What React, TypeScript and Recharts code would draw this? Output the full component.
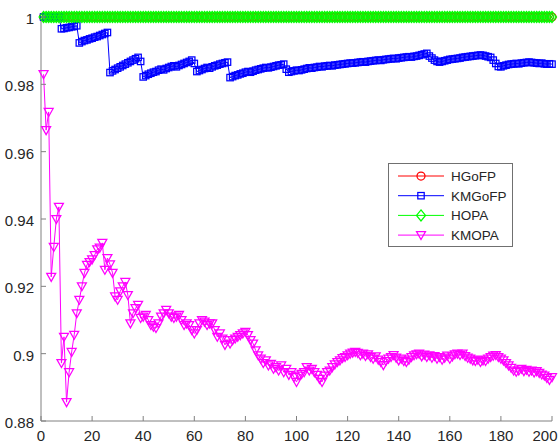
import { LineChart, Line, XAxis, YAxis, Legend } from "recharts";

// x = 1..200 (iteration index)
const xValues: number[] = Array.from({ length: 200 }, (_, i) => i + 1);

const xTicks = [0, 20, 40, 60, 80, 100, 120, 140, 160, 180, 200];
const yTicks = [0.88, 0.9, 0.92, 0.94, 0.96, 0.98, 1];

// HGoFP and HOPA stay at 1 the whole way
const hgofp: number[] = Array(200).fill(1);
const hopa: number[] = Array(200).fill(1);

const kmgofp: number[] = [
    // 1-7
    1, 1, 1, 1, 1, 1, 1,
    // 8-14
    0.9965, 0.9966, 0.9968, 0.9969, 0.9971, 0.9972, 0.9974,
    // 15-26
    0.9923, 0.9927, 0.993, 0.9932, 0.9935, 0.9937, 0.994, 0.9942, 0.9945, 0.9948, 0.9951, 0.9954,
    // 27-39
    0.9835, 0.984, 0.9844, 0.9848, 0.9852, 0.9856, 0.986, 0.9864, 0.9868, 0.9872, 0.9876, 0.988, 0.9868,
    // 40-59
    0.9822, 0.9826, 0.983, 0.9833, 0.9836, 0.9838, 0.9842, 0.9845, 0.9843, 0.9847,
    0.985, 0.9853, 0.9855, 0.9852, 0.9856, 0.9859, 0.9862, 0.9865, 0.9868, 0.9872,
    // 60
    0.9862,
    // 61-73
    0.9838, 0.9841, 0.9844, 0.9847, 0.985, 0.9848, 0.9852, 0.9855, 0.9857, 0.986, 0.9862, 0.9864, 0.9866,
    // 74-95
    0.982, 0.9823, 0.9826, 0.9828, 0.9831, 0.9833, 0.9836, 0.9838, 0.9836, 0.9839, 0.9842,
    0.9844, 0.9846, 0.9848, 0.985, 0.9849, 0.9851, 0.9853, 0.9855, 0.9857, 0.9858, 0.986,
    // 96-97
    0.9845, 0.9836,
    // 98-121
    0.9838, 0.984, 0.9842, 0.9841, 0.9843, 0.9845, 0.9847, 0.9849, 0.9848, 0.985, 0.9851, 0.9853,
    0.9852, 0.9854, 0.9855, 0.9856, 0.9855, 0.9857, 0.9858, 0.9859, 0.986, 0.9861, 0.9862, 0.9863,
    // 122-151
    0.9863, 0.9864, 0.9865, 0.9866, 0.9867, 0.9866, 0.9868, 0.9869, 0.987, 0.9871,
    0.9872, 0.9871, 0.9873, 0.9874, 0.9875, 0.9876, 0.9877, 0.9876, 0.9878, 0.9879,
    0.988, 0.9881, 0.9882, 0.9881, 0.9883, 0.9884, 0.9886, 0.9888, 0.989, 0.9892,
    // 152-156
    0.9884, 0.9878, 0.9872, 0.9868, 0.9866,
    // 157-172
    0.9868, 0.987, 0.9872, 0.9874, 0.9875, 0.9876, 0.9877, 0.9878, 0.988, 0.9881, 0.9882, 0.9883,
    0.9884, 0.9885, 0.9886, 0.9887,
    // 173-177
    0.9886, 0.9884, 0.9882, 0.988, 0.9872,
    // 178-180
    0.9862, 0.9853, 0.9852,
    // 181-200
    0.9855, 0.9857, 0.9859, 0.986, 0.9861, 0.9862, 0.9861, 0.9863, 0.9864, 0.9865,
    0.9866, 0.9865, 0.9864, 0.9863, 0.9862, 0.9863, 0.9861, 0.986, 0.9861, 0.986,
];

const kmopa: number[] = [
    // 1-10
    0.983, 0.9664, 0.9718, 0.9228, 0.9317, 0.94, 0.9436, 0.8972, 0.905, 0.8856,
    // 11-20
    0.8945, 0.9005, 0.9056, 0.912, 0.916, 0.92, 0.924, 0.9264, 0.9272, 0.928,
    // 21-30
    0.9293, 0.931, 0.9315, 0.9329, 0.9249, 0.9284, 0.9265, 0.924, 0.917, 0.916,
    // 31-40
    0.9185, 0.92, 0.9213, 0.9174, 0.909, 0.912, 0.9135, 0.9145, 0.9106, 0.911,
    // 41-50
    0.9115, 0.91, 0.9085, 0.908, 0.9076, 0.909, 0.911, 0.912, 0.913, 0.912,
    // 51-60
    0.911, 0.9106, 0.911, 0.9115, 0.91, 0.9085, 0.909, 0.9085, 0.907, 0.906,
    // 61-70
    0.907, 0.909, 0.91, 0.9095, 0.9085, 0.909, 0.909, 0.907, 0.905, 0.906,
    // 71-80
    0.9045, 0.9026, 0.904, 0.903, 0.904, 0.9045, 0.905, 0.9055, 0.906, 0.9065,
    // 81-90
    0.9055, 0.904, 0.903, 0.901, 0.8995, 0.8985, 0.8972, 0.898, 0.8965, 0.897,
    // 91-100
    0.8955, 0.896, 0.895, 0.8965, 0.8945, 0.8955, 0.8937, 0.8945, 0.893, 0.8916,
    // 101-110
    0.8935, 0.894, 0.8945, 0.896, 0.895, 0.8955, 0.8945, 0.8937, 0.8925, 0.8916,
    // 111-120
    0.8935, 0.8945, 0.895, 0.896, 0.8968, 0.8975, 0.898, 0.8987, 0.899, 0.8995,
    // 121-130
    0.9, 0.9003, 0.9005, 0.9002, 0.8995, 0.9, 0.8993, 0.8998, 0.899, 0.8985,
    // 131-140
    0.8992, 0.8982, 0.8975, 0.8966, 0.8978, 0.8985, 0.899, 0.8996, 0.8988, 0.898,
    // 141-150
    0.8985, 0.8978, 0.8975, 0.8982, 0.899, 0.8995, 0.8998, 0.9, 0.8992, 0.8997,
    // 151-160
    0.899, 0.8995, 0.8988, 0.8993, 0.8985, 0.899, 0.8982, 0.8988, 0.8994, 0.8985,
    // 161-170
    0.8992, 0.8998, 0.9, 0.8996, 0.9, 0.8993, 0.8988, 0.8985, 0.898, 0.8978,
    // 171-180
    0.8982, 0.8975, 0.898, 0.8978, 0.8985, 0.899, 0.8994, 0.8996, 0.899, 0.8985,
    // 181-190
    0.898, 0.8972, 0.8965, 0.8958, 0.895, 0.8946, 0.895, 0.8955, 0.8948, 0.8952,
    // 191-200
    0.8946, 0.895, 0.8944, 0.8948, 0.8943, 0.8938, 0.8935, 0.8928, 0.8922, 0.893,
];

const chartData = xValues.map((x, i) => ({
    x,
    hgofp: hgofp[i],
    kmgofp: kmgofp[i],
    hopa: hopa[i],
    kmopa: kmopa[i],
}));

const AXIS_COLOR = "#808080";
const TEXT_COLOR = "#262626";
const FONT = "'Liberation Sans', Arial, sans-serif";
const MARKER_STROKE = 1.25;

type MarkerKind = "circle" | "square" | "diamond" | "triangle";

const MarkerShape = ({ kind, cx, cy, color }: { kind: MarkerKind; cx: number; cy: number; color: string }) => {
    if (kind === "circle") {
        return <circle cx={cx} cy={cy} r={4} fill="none" stroke={color} strokeWidth={MARKER_STROKE} />;
    }
    if (kind === "square") {
        return (
            <rect x={cx - 3.2} y={cy - 3.2} width={6.4} height={6.4} fill="none" stroke={color} strokeWidth={MARKER_STROKE} />
        );
    }
    if (kind === "diamond") {
        return (
            <path
                d={`M${cx},${cy - 5.5}L${cx + 4.5},${cy}L${cx},${cy + 5.5}L${cx - 4.5},${cy}Z`}
                fill="none"
                stroke={color}
                strokeWidth={MARKER_STROKE}
            />
        );
    }
    return (
        <path
            d={`M${cx - 4.5},${cy - 3.5}L${cx + 4.5},${cy - 3.5}L${cx},${cy + 4.5}Z`}
            fill="none"
            stroke={color}
            strokeWidth={MARKER_STROKE}
        />
    );
};

const makeDot = (kind: MarkerKind, color: string) => (props: any) => {
    const { cx, cy, index } = props;
    if (cx == null || cy == null) return <g key={index} />;
    return (
        <g key={index}>
            <MarkerShape kind={kind} cx={cx} cy={cy} color={color} />
        </g>
    );
};

const series = [
    { key: "hgofp", name: "HGoFP", color: "#FF0000", marker: "circle" as MarkerKind },
    { key: "kmgofp", name: "KMGoFP", color: "#0000FF", marker: "square" as MarkerKind },
    { key: "hopa", name: "HOPA", color: "#00FF00", marker: "diamond" as MarkerKind },
    { key: "kmopa", name: "KMOPA", color: "#FF00FF", marker: "triangle" as MarkerKind },
];

const fmt = (v: number) => String(+v.toFixed(2));

// ticks drawn MATLAB style: small marks pointing into the plot
const LeftTick = (props: any) => {
    const { x, y, payload } = props;
    return (
        <g>
            <line x1={x} x2={x + 5} y1={y} y2={y} stroke={AXIS_COLOR} />
            <text x={x - 7} y={y + 7} textAnchor="end" fill={TEXT_COLOR} fontSize={15} fontFamily={FONT}>
                {fmt(payload.value)}
            </text>
        </g>
    );
};

const RightTick = (props: any) => {
    const { x, y } = props;
    return <line x1={x - 5} x2={x} y1={y} y2={y} stroke={AXIS_COLOR} />;
};

const BottomTick = (props: any) => {
    const { x, y, payload } = props;
    // keep the last label inside the picture
    const tx = Math.min(x, 545);
    return (
        <g>
            <line x1={x} x2={x} y1={y} y2={y - 5} stroke={AXIS_COLOR} />
            <text x={tx} y={y + 20} textAnchor="middle" fill={TEXT_COLOR} fontSize={15} fontFamily={FONT}>
                {fmt(payload.value)}
            </text>
        </g>
    );
};

const TopTick = (props: any) => {
    const { x, y } = props;
    return <line x1={x} x2={x} y1={y} y2={y + 5} stroke={AXIS_COLOR} />;
};

const LegendBox = () => (
    <div
        style={{
            width: 123,
            height: 82,
            border: "1px solid #707070",
            background: "#fff",
            boxSizing: "content-box",
        }}
    >
        <svg width={123} height={82}>
            {series.map((s, i) => {
                const cy = 12 + i * 19.7;
                return (
                    <g key={s.key}>
                        <line x1={9} x2={55} y1={cy} y2={cy} stroke={s.color} strokeWidth={1} />
                        <MarkerShape kind={s.marker} cx={32} cy={cy} color={s.color} />
                        <text x={62} y={cy + 5} fill={TEXT_COLOR} fontSize={13.5} fontFamily={FONT}>
                            {s.name}
                        </text>
                    </g>
                );
            })}
        </svg>
    </div>
);

export default function App() {
    return (
        <div style={{ position: "absolute", left: 0, top: 0, background: "#fff" }}>
            <LineChart width={560} height={443} data={chartData} margin={{ top: 17, right: 8, left: 0, bottom: 0 }}>
                <XAxis
                    dataKey="x"
                    type="number"
                    domain={[0, 200]}
                    ticks={xTicks}
                    interval={0}
                    height={22}
                    tickSize={0}
                    tickMargin={0}
                    tickLine={false}
                    axisLine={{ stroke: AXIS_COLOR }}
                    tick={<BottomTick />}
                />
                <XAxis
                    xAxisId="top"
                    orientation="top"
                    dataKey="x"
                    type="number"
                    domain={[0, 200]}
                    ticks={xTicks}
                    interval={0}
                    height={0}
                    tickSize={0}
                    tickMargin={0}
                    tickLine={false}
                    axisLine={{ stroke: AXIS_COLOR }}
                    tick={<TopTick />}
                />
                <YAxis
                    type="number"
                    domain={[0.88, 1]}
                    ticks={yTicks}
                    interval={0}
                    width={41}
                    tickSize={0}
                    tickMargin={0}
                    tickLine={false}
                    axisLine={{ stroke: AXIS_COLOR }}
                    tick={<LeftTick />}
                />
                <YAxis
                    yAxisId="right"
                    orientation="right"
                    type="number"
                    domain={[0.88, 1]}
                    ticks={yTicks}
                    interval={0}
                    width={0}
                    tickSize={0}
                    tickMargin={0}
                    tickLine={false}
                    axisLine={{ stroke: AXIS_COLOR }}
                    tick={<RightTick />}
                />
                {series.map((s) => (
                    <Line
                        key={s.key}
                        type="linear"
                        dataKey={s.key}
                        name={s.name}
                        stroke={s.color}
                        strokeWidth={1}
                        dot={makeDot(s.marker, s.color)}
                        activeDot={false}
                        isAnimationActive={false}
                    />
                ))}
                <Legend
                    layout="horizontal"
                    align="center"
                    verticalAlign="middle"
                    wrapperStyle={{ left: 388, top: 163, width: 125, height: 84 }}
                    content={() => <LegendBox />}
                />
            </LineChart>
        </div>
    );
}
